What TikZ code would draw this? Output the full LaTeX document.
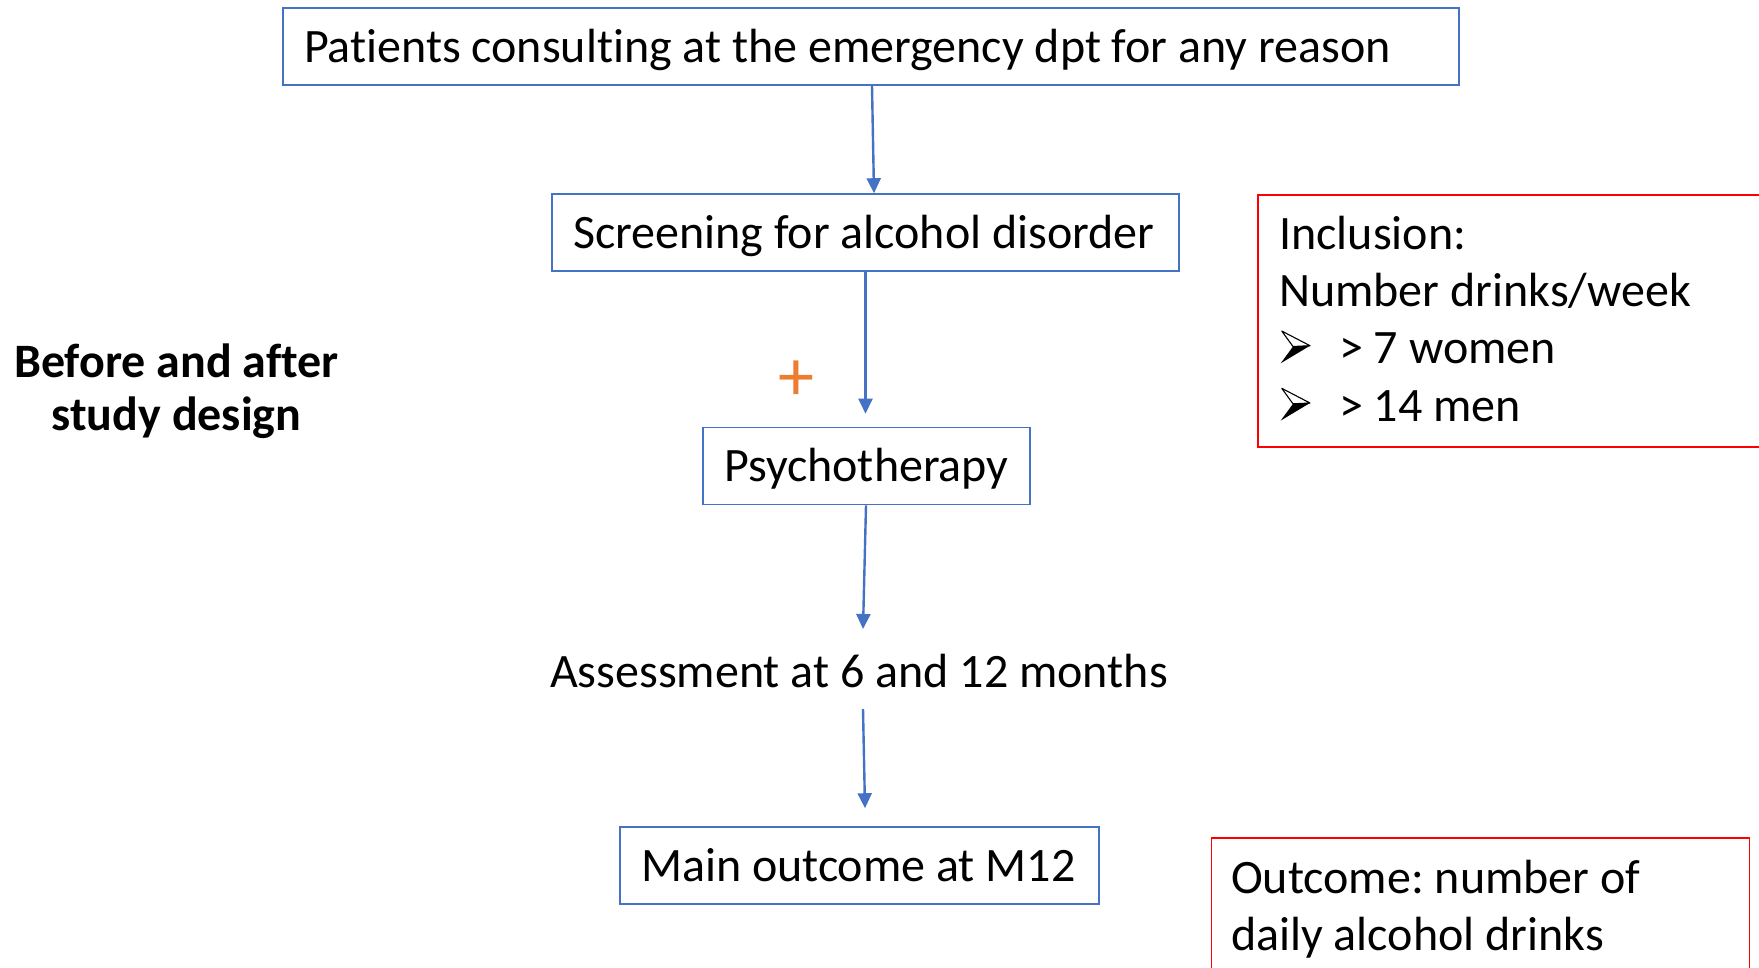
\documentclass[tikz,border=0pt]{standalone}
\usepackage{fontspec}
\setmainfont{Carlito}[Ligatures={NoCommon}]
\usetikzlibrary{arrows.meta}
\definecolor{boxblue}{HTML}{4472C4}
\definecolor{redline}{HTML}{FF0000}
\definecolor{plusorange}{HTML}{ED7D31}
\frenchspacing
\tikzset{
  bluebox/.style={draw=boxblue, line width=1.6pt, inner xsep=21pt, inner ysep=0pt,
    text height=38.5pt, text depth=7.5pt,
    minimum height=77pt, font=\fontsize{48}{57}\selectfont,
    execute at begin node={\spaceskip=0pt\xspaceskip=0pt\relax}},
  redbox/.style={draw=redline, line width=1.6pt, inner sep=0pt},
  flow/.style={draw=boxblue, line width=2.4pt, -{Triangle[length=15pt,width=14pt]}},
  txt/.style={font=\fontsize{48}{57}\selectfont, inner sep=0pt},
  boldtxt/.style={font=\bfseries\fontsize{48}{57}\selectfont, inner sep=0pt},
  bulletarrow/.pic={
    \draw[line width=1.1pt, fill=white, line join=round] (0,0) -- (28.3,14.7) -- (11.3,15.5) -- cycle;
    \fill (11.3,15.5) -- (28.3,14.7) -- (-1,32.3) -- cycle;
  }
}
\begin{document}
\begin{tikzpicture}[x=1pt,y=-1pt]
\useasboundingbox (0,0) rectangle (1759,967);
\clip (0,0) rectangle (1759,967);

% flow boxes
\node[bluebox, text width=1134pt] (b1) at (871,46.5) {\mbox{Patients consulting at the emergency dpt for any reason}};
\node[bluebox, text width=585pt] (b2) at (865.5,232.5) {\mbox{Screening for alcohol disorder}};
\node[bluebox, text width=285pt] (psy) at (866.5,466) {\mbox{Psychotherapy}};
\node[txt, anchor=base] (asm) at (859,687) {Assessment at 6 and 12 months};
\node[bluebox, text width=437pt] (mo) at (859.5,865.5) {\mbox{Main outcome at M12}};

% plus sign
\node[text=plusorange, font=\fontsize{72}{72}\selectfont, inner sep=0pt] (plus) at (796,381) {+};

% side title
\node[boldtxt, anchor=base] (t1) at (176.5,377) {Before and after};
\node[boldtxt, anchor=base] (t2) at (176.5,430) {study design};

% connectors
\coordinate (a3end) at (863,629);
\coordinate (a4start) at (863,709);
\draw[flow] ([xshift=1pt]b1.south) -- ([xshift=8.5pt]b2.north);
\draw[flow] (b2.south) -- ([yshift=13pt,xshift=-1pt]psy.north);
\draw[flow] ([xshift=-0.5pt]psy.south) -- (a3end);
\draw[flow] (a4start) -- ([xshift=5.5pt,yshift=18pt]mo.north);

% inclusion box
\node[redbox, anchor=north west, minimum width=560pt, minimum height=252pt] (inc) at (1257,194) {};
\node[txt, anchor=base west] (inc1) at (1279,249) {Inclusion:};
\node[txt, anchor=base west] (inc2) at (1279,306) {Number drinks/week};
\pic at (1281.7,331) {bulletarrow};
\node[txt, anchor=base west] (inc3) at (1339,363) {> 7 women};
\pic at (1281.7,388.3) {bulletarrow};
\node[txt, anchor=base west] (inc4) at (1339,421) {> 14 men};

% outcome box
\node[redbox, anchor=north west, minimum width=538pt, minimum height=170pt] (out) at (1210.5,837) {};
\node[txt, anchor=base west] (out1) at (1231,893) {Outcome: number of};
\node[txt, anchor=base west] (out2) at (1231,950) {daily alcohol drinks};
\end{tikzpicture}
\end{document}
